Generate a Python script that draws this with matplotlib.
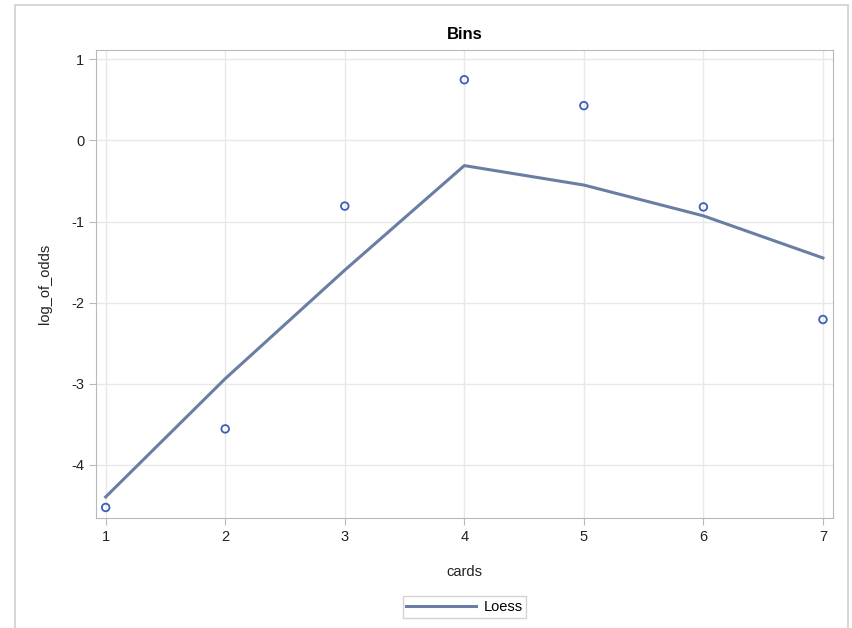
import matplotlib
matplotlib.use("Agg")
import matplotlib.pyplot as plt
from matplotlib.patches import Rectangle

cards = [1, 2, 3, 4, 5, 6, 7]
log_of_odds = [-4.53, -3.56, -0.81, 0.75, 0.43, -0.82, -2.21]
loess = [-4.40, -2.94, -1.60, -0.31, -0.55, -0.93, -1.45]

xticks = [1, 2, 3, 4, 5, 6, 7]
yticks = [-4, -3, -2, -1, 0, 1]

plt.rcParams['font.family'] = ['Liberation Sans', 'DejaVu Sans']
plt.rcParams['axes.unicode_minus'] = False

fig = plt.figure(figsize=(8.52, 6.28), dpi=100)
W, H = 852, 628
ax = fig.add_axes([96 / W, 1 - 518 / H, (833 - 96) / W, (518 - 50) / H])

# outer frame (SAS graph border)
fig.patches.append(Rectangle((15 / W, -0.01), (848 - 15) / W, 1 - 5 / H + 0.01,
                             transform=fig.transFigure, fill=False,
                             edgecolor="#d0d0d0", linewidth=1.2))

ax.plot(cards, loess, color="#6a7ea3", linewidth=2.2, zorder=3, label="Loess")
ax.scatter(cards, log_of_odds, s=30, facecolors="none", edgecolors="#3d5fb5",
           linewidths=1.3, zorder=4)

ax.set_xlim(0.919, 7.084)
ax.set_ylim(-4.66, 1.117)
ax.set_xticks(xticks)
ax.set_yticks(yticks)
ax.grid(True, color="#e8e8e8", linewidth=1)
ax.set_axisbelow(True)
for s in ax.spines.values():
    s.set_color("#b5babd")
ax.tick_params(colors="#b5babd", labelcolor="#222222", labelsize=10.5, length=5)

ax.set_title("Bins", fontsize=12, fontweight="bold", pad=8)
ax.set_xlabel("cards", fontsize=10.5, labelpad=15, color="#222222")
ax.set_ylabel("log_of_odds", fontsize=10.5, labelpad=14, color="#222222")

leg = ax.legend(loc="upper center", bbox_to_anchor=(0.5, -0.152), frameon=True,
                fontsize=10.5, handlelength=4.8, borderpad=0.25, fancybox=False,
                handletextpad=0.5)
leg.get_frame().set_edgecolor("#c8c8c8")

fig.savefig("out.png", dpi=100)
